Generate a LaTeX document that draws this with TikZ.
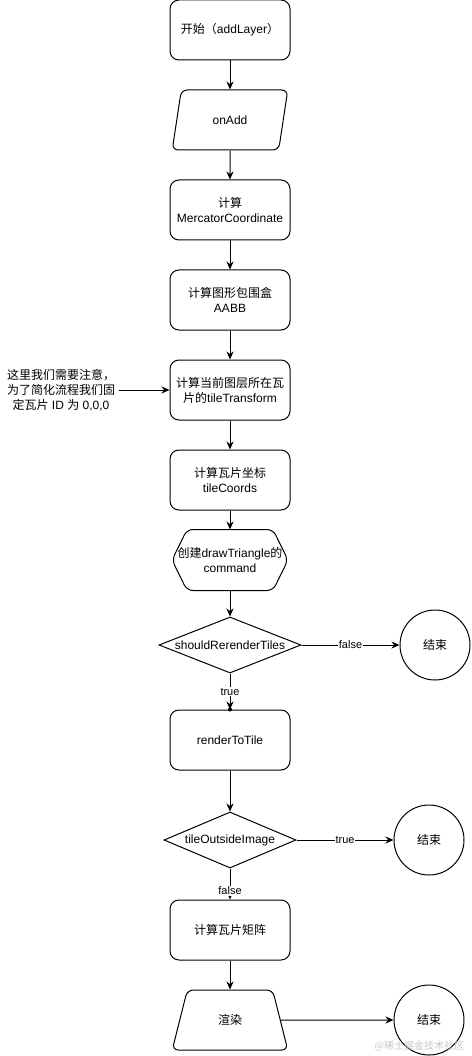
\documentclass[tikz,border=0pt]{standalone}
\usepackage{fontspec}
\setmainfont{Liberation Sans}
\newfontfamily\cjk{Noto Sans CJK SC}
\usepackage{tikz}
\usetikzlibrary{arrows.meta,shapes.geometric}
\newcommand{\zh}[1]{{\cjk #1}}

\tikzset{
  box/.style={draw, rounded corners=9pt, minimum width=120pt, minimum height=60pt, align=center},
  io/.style={draw, trapezium, trapezium left angle=76, trapezium right angle=104, trapezium stretches=true, rounded corners=6pt, minimum width=116pt, minimum height=60pt},
  trap/.style={draw, trapezium, trapezium left angle=73, trapezium right angle=73, trapezium stretches=true, rounded corners=6pt, minimum width=116pt, minimum height=60pt},
  hexa/.style={minimum width=115pt, minimum height=60pt, inner sep=0pt, align=center},
  choice/.style={draw, diamond, aspect=2.5, inner sep=0pt, minimum height=56pt},
  stop/.style={draw, circle, minimum size=70pt, inner sep=0pt},
  lab/.style={fill=white, inner sep=1pt, font=\fontsize{11}{13}\selectfont}
}

\begin{document}
\begin{tikzpicture}[x=1pt, y=-1pt, font=\fontsize{12}{15}\selectfont, line width=1pt, >={Stealth[length=8pt,width=7pt]}]
\useasboundingbox (0,0) rectangle (471,1056);
\node[box] (start) at (230,30) {\zh{开始（}addLayer\zh{）}};
\node[io] (onadd) at (230,120) {onAdd};
\node[box] (merc) at (230,210) {\zh{计算}\\MercatorCoordinate};
\node[box] (aabb) at (230,300) {\zh{计算图形包围盒}\\AABB};
\node[box] (tiletf) at (230,390) {\zh{计算当前图层所在瓦}\\\zh{片的}tileTransform};
\node[align=center, inner sep=3pt] (note) at (61,390) {\zh{这里我们需要注意，}\\\zh{为了简化流程我们固}\\\zh{定瓦片} ID \zh{为} 0,0,0};
\node[box] (coords) at (230,480) {\zh{计算瓦片坐标}\\tileCoords};
\node[hexa] (cmd) at (230,560) {\zh{创建}drawTriangle\zh{的}\\command};
\draw[rounded corners=6pt] (cmd.west) -- ([xshift=15pt]cmd.north west) -- ([xshift=-15pt]cmd.north east)
  -- (cmd.east) -- ([xshift=-15pt]cmd.south east) -- ([xshift=15pt]cmd.south west) -- cycle;
\node[choice, minimum width=142pt] (should) at (230,645) {shouldRerenderTiles};
\node[stop] (end1) at (435,645) {\zh{结束}};
\node[box] (render) at (230,740) {renderToTile};
\node[choice, minimum width=132pt] (outside) at (230,840) {tileOutsideImage};
\node[stop] (end2) at (429,840) {\zh{结束}};
\node[box] (matrix) at (230,930) {\zh{计算瓦片矩阵}};
\node[trap] (paint) at (230,1020) {\zh{渲染}};
\node[stop] (end3) at (429,1020) {\zh{结束}};
\node[anchor=east, text=gray!45, font=\fontsize{10}{12}\selectfont] (mark) at (468,1046) {\zh{@稀土掘金技术社区}};

\draw[->] (start) -- (onadd);
\draw[->] (onadd) -- (merc);
\draw[->] (merc) -- (aabb);
\draw[->] (aabb) -- (tiletf);
\draw[->] (note) -- (tiletf);
\draw[->] (tiletf) -- (coords);
\draw[->] (coords) -- (cmd);
\draw[->] (cmd) -- (should);
\draw[->] (should) -- node[lab] {false} (end1);
\draw[->] (should) -- node[lab] {true} (render);
\fill (render.north) circle (2pt);
\draw[->] (render) -- (outside);
\draw[->] (outside) -- node[lab] {true} (end2);
\draw[->] (outside) -- node[lab, pos=0.72] {false} (matrix);
\draw[->] (matrix) -- (paint);
\draw[->] (paint) -- (end3);
\end{tikzpicture}
\end{document}
